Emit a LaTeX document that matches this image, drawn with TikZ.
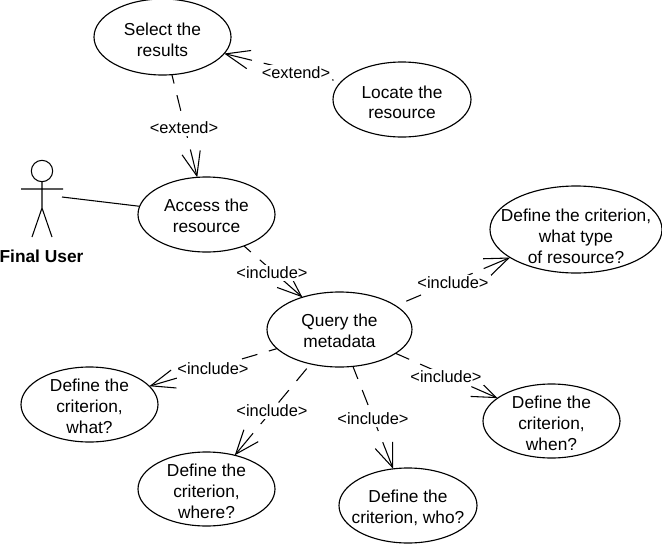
\documentclass[tikz,border=0pt]{standalone}
\usepackage{fontspec}
\setmainfont{Liberation Sans}
\usetikzlibrary{arrows.meta,shapes.geometric}
% invisible strut on a first line, which lowers the block of text inside its ellipse
\newcommand{\firstline}[1]{\rule{0pt}{#1pt}}
\tikzset{
  usecase/.style={draw,ellipse,line width=0.85pt,inner sep=-12pt,outer sep=0pt,align=center,
    font=\fontsize{13}{15.6}\selectfont,minimum width=102.75pt,minimum height=56.25pt},
  % each dependency runs from its arrow tip back to its source, so the long dash sits at the tip
  dep/.style={draw,line width=0.8pt,
    dash pattern=on 20pt off 9pt on 12pt off 9pt on 12pt off 9pt on 12pt off 9pt on 12pt off 9pt on 12pt off 9pt,
    {Straight Barb[length=18pt,width=14pt,line width=0.8pt]}-},
  deplabel/.style={fill=white,inner sep=1.5pt,font=\fontsize{12.3}{14}\selectfont},
  limb/.style={draw,line width=0.8pt}
}
\begin{document}
\begin{tikzpicture}[x=0.75pt,y=-0.75pt]
\useasboundingbox (0,0) rectangle (662,544);
% use cases
\node[usecase,minimum height=57pt] (select) at (162.5,37) {\firstline{13.5}Select the\\results};
\node[usecase,minimum width=103.5pt] (locate) at (402,99.5) {\firstline{13.5}Locate the\\resource};
\node[usecase] (access) at (206.5,214.5) {\firstline{11}Access the\\resource};
\node[usecase,minimum width=108.75pt] (query) at (339.5,329.5) {\firstline{11}Query the\\metadata};
\node[usecase,minimum width=129pt,minimum height=65.25pt] (type) at (576,229.5) {\firstline{20}Define the criterion,\\what type\\of resource?};
\node[usecase] (what) at (89.5,404.5) {\firstline{12.5}Define the\\criterion,\\what?};
\node[usecase,minimum height=55.5pt] (where) at (206.5,489) {\firstline{12.5}Define the\\criterion,\\where?};
\node[usecase,minimum width=103.5pt] (who) at (408,505.5) {\firstline{12.5}Define the\\criterion, who?};
\node[usecase,minimum height=55.5pt] (when) at (551.5,421) {\firstline{12.5}Define the\\criterion,\\when?};
% actor
\node[draw,circle,line width=0.8pt,minimum size=16pt,inner sep=0pt] (head) at (42,171) {};
\coordinate (armL) at (21,189);
\coordinate (armR) at (63,189);
\coordinate (hip) at (42,208);
\coordinate (footL) at (32,237);
\coordinate (footR) at (52,237);
\coordinate (hand) at (62,197);
\draw[limb] (head.south) -- (hip) (armL) -- (armR) (footL) -- (hip) -- (footR);
\node[font=\fontsize{13}{15}\bfseries\selectfont] (actor) at (41.5,256) {Final User};
\draw[limb] (hand) -- (access.173);
% dependencies
\draw[dep] (select.-15.6) -- (locate.164.7);
\draw[dep] (access.104.2) -- (select.-76);
\draw[dep] (query.139.7) -- (access.-40.8);
\draw[dep] (type.-157.6) -- (query.23.1);
\draw[dep] (what.17.1) -- (query.-163.2);
\draw[dep] (where.50.5) -- (query.-130.7);
\draw[dep] (who.112) -- (query.-70.2);
\draw[dep] (when.157) -- (query.-23.1);
% stereotype labels, set over the dashed lines
\node[deplabel] (e1) at (296,73) {<extend>};
\node[deplabel] (e2) at (184,128) {<extend>};
\node[deplabel] (i1) at (272,273) {<include>};
\node[deplabel] (i2) at (453,283) {<include>};
\node[deplabel] (i3) at (213,369) {<include>};
\node[deplabel] (i4) at (272,411) {<include>};
\node[deplabel] (i5) at (373,419) {<include>};
\node[deplabel] (i6) at (446,377) {<include>};
\end{tikzpicture}
\end{document}
